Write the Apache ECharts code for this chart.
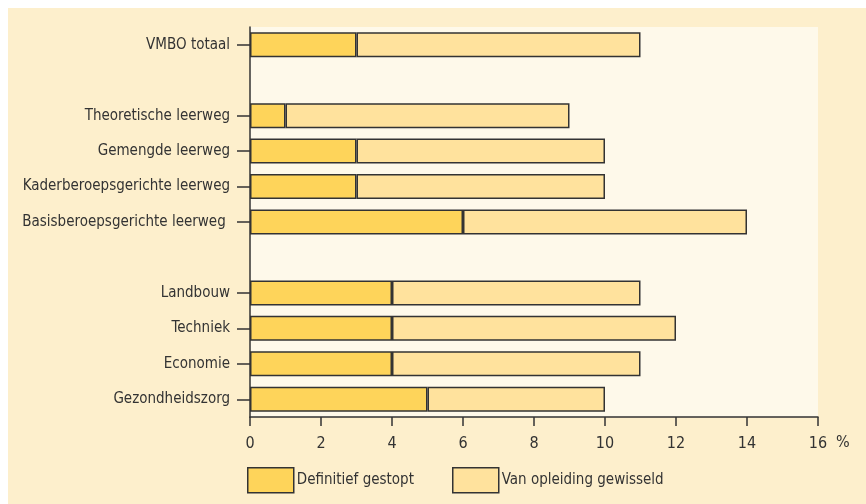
<!DOCTYPE html>
<html>
<head>
<meta charset="utf-8">
<script src="https://cdn.jsdelivr.net/npm/echarts@6/dist/echarts.min.js"></script>
<style>html,body{margin:0;padding:0;background:#fff;}#c{width:866px;height:504px;}</style>
</head>
<body>
<div id="c"></div>
<script>
var categories = ['VMBO totaal', '', 'Theoretische leerweg', 'Gemengde leerweg', 'Kaderberoepsgerichte leerweg', 'Basisberoepsgerichte leerweg ', '', 'Landbouw', 'Techniek', 'Economie', 'Gezondheidszorg'];
var gestopt = [3, null, 1, 3, 3, 6, null, 4, 4, 4, 5];
var gewisseld = [8, null, 8, 7, 7, 8, null, 7, 8, 7, 5];
var xTicks = [0, 2, 4, 6, 8, 10, 12, 14, 16];
var seriesNames = ['Definitief gestopt', 'Van opleiding gewisseld'];

var FONT = "'Liberation Sans Narrow', 'DejaVu Sans Condensed', sans-serif";
var chart = echarts.init(document.getElementById('c'), null, {renderer: 'canvas'});
chart.setOption({
  animation: false,
  textStyle: {fontFamily: FONT},
  graphic: [
    {type: 'rect', z: -10, shape: {x: 8, y: 8, width: 858, height: 496}, style: {fill: '#fdefcc'}},
    {type: 'text', left: 836, top: 435, style: {text: '%', font: '16px ' + FONT, fill: '#333'}}
  ],
  grid: {left: 250, right: 48, top: 27, bottom: 87, show: true, backgroundColor: '#fef9ea', borderWidth: 0},
  xAxis: {
    type: 'value', min: xTicks[0], max: xTicks[xTicks.length - 1], interval: 2,
    axisLine: {show: true, lineStyle: {color: '#333', width: 1.5}},
    axisTick: {show: true, length: 9, lineStyle: {color: '#333', width: 1.5}},
    axisLabel: {color: '#333', fontSize: 16, margin: 19, fontFamily: FONT},
    splitLine: {show: false}
  },
  yAxis: {
    type: 'category', data: categories, inverse: true,
    axisLine: {show: true, lineStyle: {color: '#333', width: 1.5}},
    axisTick: {show: true, length: 13, alignWithLabel: true, lineStyle: {color: '#333', width: 1.5},
      interval: function (i, v) { return v !== ''; }},
    axisLabel: {color: '#333', fontSize: 15, margin: 20, fontFamily: FONT, interval: 0}
  },
  legend: [
    {data: [{name: seriesNames[0], icon: 'rect'}], left: 247, top: 467, itemWidth: 46, itemHeight: 25, itemGap: 0,
      itemStyle: {borderColor: '#333', borderWidth: 1.5},
      textStyle: {color: '#333', fontSize: 15, fontFamily: FONT, padding: [0,0,0,-2]}, padding: 0},
    {data: [{name: seriesNames[1], icon: 'rect'}], left: 452, top: 467, itemWidth: 46, itemHeight: 25, itemGap: 0,
      itemStyle: {borderColor: '#333', borderWidth: 1.5},
      textStyle: {color: '#333', fontSize: 15, fontFamily: FONT, padding: [0,0,0,-2]}, padding: 0}
  ],
  series: [
    {name: seriesNames[0], type: 'bar', stack: 't', data: gestopt, barWidth: 25,
      itemStyle: {color: '#fed45a', borderColor: '#333', borderWidth: 1.5}},
    {name: seriesNames[1], type: 'bar', stack: 't', data: gewisseld, barWidth: 25,
      itemStyle: {color: '#ffe29d', borderColor: '#333', borderWidth: 1.5}}
  ]
});
</script>
</body>
</html>
